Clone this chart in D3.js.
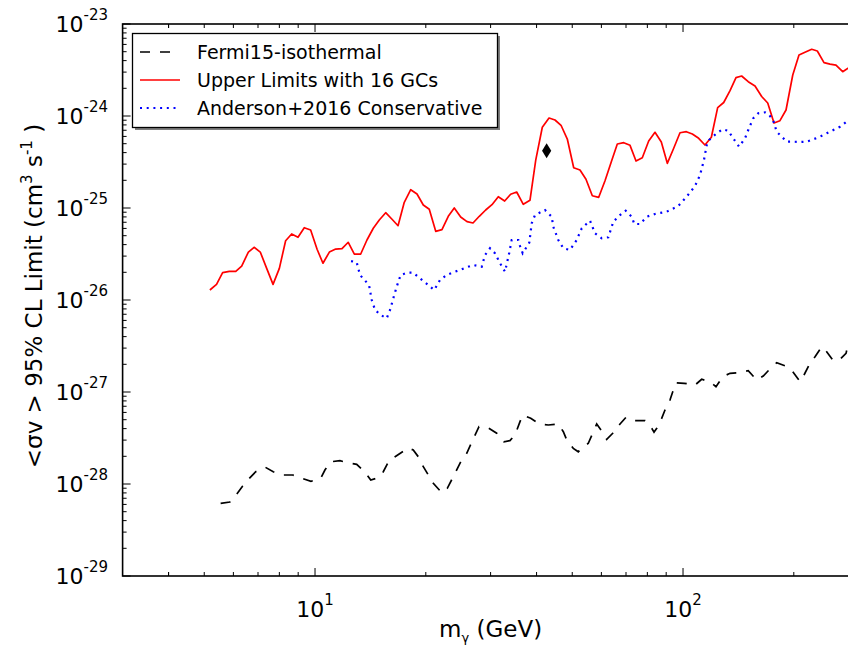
<!DOCTYPE html>
<html><head><meta charset="utf-8">
<script src="https://cdn.jsdelivr.net/npm/d3@7/dist/d3.min.js"></script>
<style>body{margin:0;background:#fff}svg{display:block;font-family:"DejaVu Sans",sans-serif}</style>
</head><body><svg id="c" width="848" height="645"></svg>
<script>
// ---- data ----
const redX = [5.18,5.40,5.61,5.85,6.09,6.32,6.59,6.83,7.10,7.39,7.69,8.00,8.32,8.64,8.99,9.35,9.73,10.13,10.51,10.94,11.38,11.84,12.31,12.79,13.31,13.84,14.40,14.95,15.56,16.19,16.81,17.48,18.20,18.93,19.69,20.44,21.28,22.13,23.02,23.90,24.88,25.88,26.87,27.95,29.09,30.26,31.48,32.76,34.01,35.32,36.81,38.38,39.79,41.46,43.24,44.89,46.61,48.48,50.46,52.48,54.49,56.69,59.01,61.38,63.85,66.29,69.01,71.78,74.52,77.51,80.67,83.91,87.30,90.64,94.34,98.13,102.1,106.0,110.3,114.7,119.4,124.2,129.0,134.2,139.3,144.3,150.4,156.9,163.6,169.9,176.7,183.4,190.5,198.7,206.6,214.5,223.7,231.7,241.6,250.9,260.4,271.6,280.7,291];
const redY = [1.285e-26,1.48e-26,1.98e-26,2.05e-26,2.05e-26,2.34e-26,3.32e-26,3.74e-26,3.32e-26,2.21e-26,1.48e-26,2.21e-26,4.41e-26,5.22e-26,4.80e-26,6.11e-26,5.77e-26,3.56e-26,2.51e-26,3.32e-26,3.58e-26,3.61e-26,4.24e-26,3.16e-26,3.16e-26,4.49e-26,6.02e-26,7.41e-26,8.89e-26,7.54e-26,6.42e-26,1.153e-25,1.58e-25,1.42e-25,1.078e-25,9.68e-26,5.58e-26,5.81e-26,8.13e-26,1.0e-25,7.98e-26,7.10e-26,6.87e-26,8.13e-26,9.51e-26,1.086e-25,1.327e-25,1.191e-25,1.409e-25,1.492e-25,1.097e-25,1.213e-25,3.32e-25,7.54e-25,9.51e-25,9.05e-25,7.93e-25,5.62e-25,2.74e-25,2.59e-25,2.05e-25,1.360e-25,1.307e-25,1.98e-25,3.19e-25,4.96e-25,5.13e-25,4.80e-25,3.24e-25,3.52e-25,5.35e-25,6.65e-25,5.22e-25,3.06e-25,4.46e-25,6.58e-25,6.75e-25,6.37e-25,5.72e-25,4.84e-25,5.87e-25,1.231e-24,1.402e-24,1.884e-24,2.61e-24,2.72e-24,2.36e-24,2.12e-24,1.629e-24,1.385e-24,8.39e-25,8.89e-25,1.162e-24,2.79e-24,4.60e-24,4.93e-24,5.31e-24,5.09e-24,3.80e-24,3.67e-24,3.58e-24,3.03e-24,3.30e-24,3.35e-24];

const blueX = [12.53,12.98,13.25,14.02,14.26,14.56,15.09,15.66,15.99,16.32,16.67,17.09,17.81,18.49,19.29,20.31,21.09,21.86,22.80,23.75,24.77,25.84,26.92,28.38,28.97,29.89,30.84,31.82,32.83,33.72,34.23,35.68,36.06,36.67,38.22,38.80,39.61,42.16,43.97,44.41,45.83,47.29,49.31,51.42,53.06,55.88,57.66,60.12,62.66,64.65,67.42,69.87,72.54,73.74,76.41,79.68,83.91,90.29,97.1,102.3,107.8,111.2,114.0,116.0,117.8,123.4,128.2,132.7,136.9,142.0,147.4,150.4,155.2,160.1,167.0,171.6,175.9,179.7,185.4,191.3,199.4,208.0,216.8,225.9,235.6,245.7,256.1,267.1,280.7,291];
const blueY = [2.65e-26,2.57e-26,1.87e-26,1.455e-26,1.0e-26,7.79e-27,6.87e-27,6.32e-27,7.79e-27,1.043e-26,1.395e-26,1.87e-26,1.98e-26,1.98e-26,1.72e-26,1.455e-26,1.285e-26,1.65e-26,1.87e-26,2.0e-26,2.12e-26,2.27e-26,2.40e-26,2.30e-26,3.08e-26,3.65e-26,3.22e-26,2.51e-26,2.03e-26,3.27e-26,4.49e-26,4.49e-26,3.86e-26,3.22e-26,4.20e-26,6.82e-26,8.39e-26,9.51e-26,8.04e-26,6.26e-26,4.49e-26,3.65e-26,3.50e-26,4.49e-26,6.02e-26,7.28e-26,5.31e-26,4.69e-26,4.80e-26,7.10e-26,8.39e-26,9.35e-26,8.04e-26,6.70e-26,6.70e-26,8.04e-26,8.61e-26,9.12e-26,1.051e-25,1.327e-25,1.734e-25,2.28e-25,3.32e-25,4.84e-25,5.48e-25,6.49e-25,7.17e-25,6.92e-25,5.72e-25,4.64e-25,5.72e-25,7.04e-25,9.44e-25,1.070e-24,1.097e-24,1.025e-24,8.89e-25,6.75e-25,5.96e-25,5.26e-25,5.26e-25,5.22e-25,5.26e-25,5.58e-25,5.96e-25,6.49e-25,7.04e-25,7.65e-25,8.89e-25,9.6e-25];

const blackX = [5.54,5.87,6.13,6.36,6.63,6.90,7.33,7.70,8.20,8.70,9.22,9.75,10.36,10.64,11.05,11.69,12.45,12.98,13.67,14.17,14.86,15.33,15.89,16.50,17.93,18.49,19.08,19.69,20.96,21.86,22.23,22.88,23.75,25.03,25.84,27.09,27.90,29.38,31.17,32.62,33.86,34.94,36.06,36.67,38.56,40.69,43.05,45.83,47.29,48.31,50.33,51.94,53.06,55.29,57.05,58.27,59.86,62.03,64.42,67.42,69.98,74.05,78.83,82.23,83.41,84.84,87.50,89.33,92.17,94.10,95.52,100.8,107.8,112.4,118.4,122.9,128.2,134.2,141.3,150.4,158.6,165.2,173.0,179.7,189.3,198.7,208.0,213.2,221.3,228.4,238.2,244.6,256.1,267.1,277.3,280.7];
const blackY = [6.17e-29,6.37e-29,7.79e-29,9.51e-29,1.153e-28,1.360e-28,1.519e-28,1.360e-28,1.253e-28,1.253e-28,1.153e-28,1.070e-28,1.153e-28,1.420e-28,1.747e-28,1.791e-28,1.679e-28,1.637e-28,1.340e-28,1.105e-28,1.171e-28,1.360e-28,1.791e-28,1.98e-28,2.46e-28,2.34e-28,1.98e-28,1.542e-28,1.018e-28,8.46e-29,8.04e-29,8.98e-29,1.200e-28,1.823e-28,2.16e-28,3.27e-28,4.20e-28,4.13e-28,3.56e-28,2.88e-28,2.96e-28,3.41e-28,4.76e-28,5.62e-28,5.18e-28,4.49e-28,4.38e-28,4.49e-28,3.70e-28,3.01e-28,2.44e-28,2.24e-28,2.44e-28,2.77e-28,3.70e-28,4.49e-28,3.86e-28,3.06e-28,3.56e-28,4.49e-28,5.31e-28,4.88e-28,4.88e-28,4.03e-28,3.65e-28,4.03e-28,5.18e-28,6.37e-28,8.18e-28,1.051e-27,1.262e-27,1.243e-27,1.191e-27,1.374e-27,1.294e-27,1.142e-27,1.466e-27,1.597e-27,1.621e-27,1.704e-27,1.350e-27,1.492e-27,1.81e-27,2.08e-27,1.93e-27,1.662e-27,1.294e-27,1.53e-27,2.05e-27,2.42e-27,3.11e-27,2.81e-27,2.19e-27,2.27e-27,2.63e-27,3.24e-27];

const markerX = [42.6];
const markerY = [4.2e-25];

const xDomain = [3, 300];
const yDomain = [1e-29, 1e-23];
const xMajor = [10, 100];
const xMajorLabels = ["1", "2"];
const yMajor = [1e-29,1e-28,1e-27,1e-26,1e-25,1e-24,1e-23];
const yMajorLabels = ["-29","-28","-27","-26","-25","-24","-23"];
const legendLabels = ["Fermi15-isothermal", "Upper Limits with 16 GCs", "Anderson+2016 Conservative"];

// ---- drawing ----
const svg = d3.select("#c");
const L = 122.6, R = 858.6, T = 24, B = 576;
const x = d3.scaleLog().domain(xDomain).range([L, R]);
const y = d3.scaleLog().domain(yDomain).range([B, T]);

svg.append("rect").attr("width",848).attr("height",645).attr("fill","#fff");

const clip = svg.append("defs").append("clipPath").attr("id","pc");
clip.append("rect").attr("x",L).attr("y",T).attr("width",R-L).attr("height",B-T);

const plot = svg.append("g").attr("clip-path","url(#pc)");
const line = d3.line().x(d=>x(d[0])).y(d=>y(d[1]));
const zip = (a,b)=>a.map((v,i)=>[v,b[i]]).filter(d=>d[1]!==undefined);

plot.append("path").datum(zip(blackX,blackY)).attr("d",line)
  .attr("fill","none").attr("stroke","#000").attr("stroke-width",1.7).attr("stroke-dasharray","10,10");
plot.append("path").datum(zip(redX,redY)).attr("d",line)
  .attr("fill","none").attr("stroke","#ff0000").attr("stroke-width",1.7).attr("stroke-linejoin","round");
plot.append("path").datum(zip(blueX,blueY)).attr("d",line)
  .attr("fill","none").attr("stroke","#0000ff").attr("stroke-width",2.2).attr("stroke-dasharray","2,4.7");

// diamond marker
plot.selectAll("path.mk").data(zip(markerX,markerY)).enter().append("path")
  .attr("class","mk")
  .attr("d","M0,-7.5L4.6,0L0,7.5L-4.6,0Z")
  .attr("transform",d=>`translate(${x(d[0])},${y(d[1])})`)
  .attr("fill","#000");

// ticks
const tk = svg.append("g").attr("stroke","#000").attr("stroke-width",1);
const xMinor = [];
[1,10,100].forEach(dec=>{for(let k=2;k<=9;k++){const v=k*dec; if(v>xDomain[0]&&v<xDomain[1]) xMinor.push(v);} });
xMinor.push(4);
const yMinor = [];
for(let e=-29;e<-23;e++){for(let k=2;k<=9;k++) yMinor.push(k*Math.pow(10,e));}
function xt(v,len){const px=x(v);
  tk.append("line").attr("x1",px).attr("x2",px).attr("y1",B).attr("y2",B-len);
  tk.append("line").attr("x1",px).attr("x2",px).attr("y1",T).attr("y2",T+len);}
function yt(v,len){const py=y(v);
  tk.append("line").attr("x1",L).attr("x2",L+len).attr("y1",py).attr("y2",py);
  tk.append("line").attr("x1",R).attr("x2",R-len).attr("y1",py).attr("y2",py);}
xMajor.forEach(v=>xt(v,8)); xMinor.forEach(v=>xt(v,4));
yMajor.forEach(v=>yt(v,8)); yMinor.forEach(v=>yt(v,4));

// frame
svg.append("rect").attr("x",L).attr("y",T).attr("width",R-L).attr("height",B-T)
  .attr("fill","none").attr("stroke","#000").attr("stroke-width",1.6);

// tick labels
yMajor.forEach((v,i)=>{
  const t = svg.append("text").attr("x",108).attr("y",y(v)+8).attr("text-anchor","end")
    .attr("font-size",22).attr("fill","#000");
  t.append("tspan").text("10");
  t.append("tspan").attr("dy",-12).attr("font-size",15).text(yMajorLabels[i]);
});
xMajor.forEach((v,i)=>{
  const t = svg.append("text").attr("x",x(v)).attr("y",617).attr("text-anchor","middle")
    .attr("font-size",22).attr("fill","#000");
  t.append("tspan").text("10");
  t.append("tspan").attr("dy",-12).attr("font-size",15).text(xMajorLabels[i]);
});

// axis labels
const xl = svg.append("text").attr("x",(L+R)/2).attr("y",637).attr("text-anchor","middle")
  .attr("font-size",23).attr("fill","#000");
xl.append("tspan").text("m");
xl.append("tspan").attr("dy",5).attr("font-size",13).text("γ");
xl.append("tspan").attr("dy",-5).text(" (GeV)");

const yl = svg.append("text").attr("transform","translate(42,296) rotate(-90)").attr("text-anchor","middle")
  .attr("font-size",23).attr("fill","#000");
yl.append("tspan").text("<σv > 95% CL Limit (cm");
yl.append("tspan").attr("dy",-10).attr("font-size",15).text("3");
yl.append("tspan").attr("dy",10).text(" s");
yl.append("tspan").attr("dy",-10).attr("font-size",15).text("-1");
yl.append("tspan").attr("dy",10).text(" )");

// legend
const lg = svg.append("g");
lg.append("rect").attr("x",135).attr("y",36).attr("width",365).attr("height",94).attr("fill","#000").attr("opacity",0.5);
lg.append("rect").attr("x",132.5).attr("y",33.5).attr("width",365).attr("height",94)
  .attr("fill","#fff").attr("stroke","#000").attr("stroke-width",1.3);
const styles = [
  {c:"#000",w:1.7,d:"10,10"},
  {c:"#ff0000",w:1.7,d:null},
  {c:"#0000ff",w:2.2,d:"2,4.7"}
];
legendLabels.forEach((s,i)=>{
  const yy = 52 + i*28;
  lg.append("line").attr("x1",140).attr("x2",180).attr("y1",yy).attr("y2",yy)
    .attr("stroke",styles[i].c).attr("stroke-width",styles[i].w).attr("stroke-dasharray",styles[i].d);
  lg.append("text").attr("x",197).attr("y",yy+7).attr("font-size",19).attr("fill","#000").text(s);
});
</script></body></html>
